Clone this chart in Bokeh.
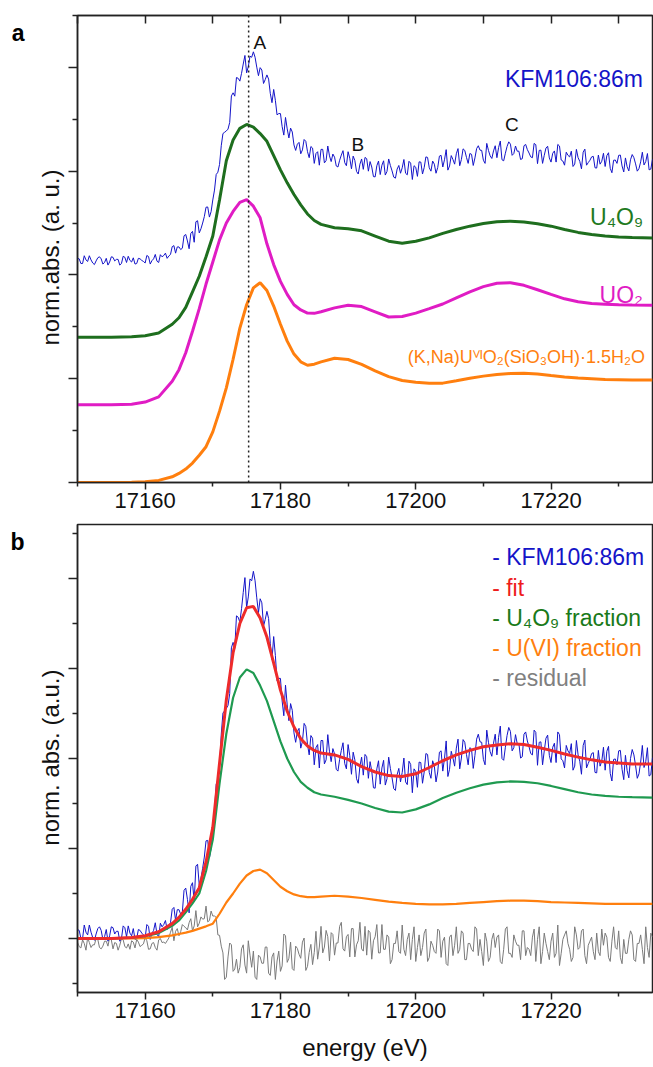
from bokeh.plotting import figure
from bokeh.models import FixedTicker, LinearAxis, Span, Label, Range1d, CustomJSTickFormatter
from bokeh.layouts import column
from bokeh.embed import file_html
from bokeh.resources import INLINE

FONT = "Liberation Sans"

# ---------------- data ----------------
# measured sample spectrum (KFM106:86m), 0.25 eV steps from 17150 eV, panel-b units
energy_fine = [17150 + 0.25 * i for i in range(341)]
kfm = [0.20, 0.18, 0.00, 0.00, 0.30, 0.14, 0.08, 0.30, 0.14, 0.02,
       -0.04, 0.10, 0.22, 0.26, 0.18, -0.02, 0.04, 0.20, -0.06, 0.06,
       0.26, 0.24, 0.10, 0.16, 0.16, -0.06, 0.00, 0.28, 0.24, 0.04,
       0.28, 0.12, 0.06, 0.22, -0.02, 0.00, 0.20, 0.18, 0.12, 0.08,
       0.02, 0.31, 0.27, -0.02, 0.11, 0.18, 0.35, 0.09, 0.04, 0.34,
       0.26, 0.31, 0.40, 0.20, 0.29, 0.35, 0.65, 0.69, 0.40, 0.64,
       0.64, 0.54, 0.59, 1.07, 1.12, 0.87, 0.57, 1.16, 1.24, 0.82,
       1.61, 1.65, 1.18, 1.34, 1.56, 1.81, 2.17, 2.18, 1.79, 2.00,
       2.45, 2.83, 3.43, 3.52, 3.82, 4.54, 5.01, 5.06, 5.11, 5.18,
       5.44, 6.46, 6.58, 6.45, 7.17, 7.14, 7.03, 7.33, 7.69, 8.02,
       7.35, 7.59, 7.99, 7.95, 8.16, 7.95, 7.57, 7.24, 7.55, 7.46,
       6.94, 7.09, 7.27, 7.11, 6.56, 6.20, 6.71, 6.29, 5.73, 5.78,
       5.78, 5.28, 4.95, 5.63, 5.19, 4.84, 5.22, 5.07, 4.57, 4.36,
       4.60, 4.67, 4.23, 4.38, 4.78, 4.71, 4.31, 4.08, 4.51, 4.45,
       3.86, 4.24, 4.31, 3.79, 4.40, 4.40, 3.88, 3.97, 4.53, 4.15,
       3.93, 4.22, 4.10, 3.76, 3.72, 3.98, 4.18, 4.35, 3.89, 3.77,
       4.31, 4.06, 3.65, 4.14, 3.97, 3.55, 3.45, 3.83, 4.03, 3.63,
       4.09, 4.04, 3.56, 3.93, 3.72, 3.35, 3.34, 3.77, 3.95, 3.43,
       3.79, 3.96, 3.41, 3.55, 4.03, 3.78, 3.57, 3.33, 3.29, 3.64,
       3.78, 3.48, 3.69, 4.01, 3.48, 3.42, 3.94, 3.87, 3.24, 3.77,
       3.71, 3.36, 3.92, 3.91, 3.45, 3.70, 4.11, 4.09, 3.69, 3.56,
       3.95, 3.83, 3.48, 3.70, 4.14, 4.17, 3.72, 4.00, 4.39, 3.60,
       3.76, 4.16, 4.01, 3.83, 4.23, 4.43, 3.77, 4.01, 4.42, 4.36,
       4.09, 3.86, 4.24, 4.21, 3.78, 4.07, 4.43, 4.54, 4.37, 4.36,
       3.98, 3.86, 4.63, 4.36, 4.15, 4.05, 4.34, 4.54, 4.08, 4.47,
       4.72, 4.00, 3.96, 4.25, 4.51, 4.69, 4.60, 4.17, 4.24, 4.53,
       4.33, 4.33, 4.01, 4.04, 4.54, 4.59, 4.39, 4.26, 4.11, 4.08,
       4.63, 4.58, 3.85, 4.36, 4.37, 3.86, 4.17, 4.45, 4.52, 4.07,
       3.91, 4.25, 4.34, 3.91, 4.59, 4.53, 3.99, 3.95, 3.79, 4.29,
       4.17, 4.11, 4.33, 3.74, 3.83, 4.40, 4.08, 3.94, 3.65, 4.29,
       4.41, 3.79, 3.89, 3.98, 4.11, 4.13, 3.69, 3.68, 4.18, 3.83,
       3.94, 4.25, 3.74, 4.16, 4.27, 3.67, 3.50, 3.98, 3.99, 3.86,
       4.17, 4.18, 3.76, 3.53, 4.07, 3.73, 3.57, 4.00, 4.20, 4.08,
       3.84, 3.56, 3.66, 3.92, 4.29, 3.80, 3.93, 4.24, 3.61, 3.64,
       4.02]
residual = [-0.08, -0.18, -0.21, -0.03, -0.11, -0.26, 0.02, -0.09, -0.20, -0.14,
            -0.14, 0.00, -0.02, -0.20, -0.23, -0.17, -0.06, -0.06, -0.17, 0.02,
            -0.03, -0.23, -0.09, -0.11, -0.26, -0.15, 0.00, -0.03, -0.18, -0.21,
            -0.12, -0.24, -0.05, -0.08, -0.21, -0.02, -0.08, -0.18, -0.15, -0.12,
            0.02, -0.05, -0.24, -0.23, -0.11, -0.09, -0.20, -0.26, -0.03, 0.00,
            -0.09, -0.08, -0.11, -0.05, 0.01, 0.14, 0.25, -0.05, 0.16, 0.22,
            0.06, 0.15, 0.31, 0.27, 0.24, 0.19, 0.35, 0.44, 0.17, 0.28,
            0.62, 0.26, 0.34, 0.48, 0.43, 0.44, 0.72, 0.37, 0.40, 0.61,
            0.50, 0.50, 0.47, 0.08, 0.07, -0.17, -0.32, -0.91, -0.86, -0.41,
            -0.10, -0.14, -0.73, -0.68, -0.46, -0.77, -0.64, -0.23, -0.14, -0.59,
            -0.77, -0.05, -0.37, -0.64, -0.28, -0.86, -0.91, -0.37, -0.41, -0.55,
            -0.55, -0.19, -0.19, -0.77, -0.82, -0.41, -0.32, -0.91, -0.50, -0.28,
            -0.73, -0.61, 0.10, 0.06, -0.53, -0.44, -0.08, -0.67, -0.71, -0.17,
            -0.22, -0.35, -0.44, -0.08, 0.01, -0.71, -0.62, -0.31, -0.13, -0.58,
            -0.31, 0.16, -0.46, -0.19, 0.27, -0.32, -0.19, 0.18, 0.04, -0.50,
            0.13, 0.09, -0.37, -0.10, -0.10, 0.27, 0.36, -0.23, -0.28, 0.04,
            0.09, -0.41, 0.22, 0.22, -0.41, -0.14, -0.05, 0.36, -0.23, -0.28,
            0.27, -0.37, 0.18, 0.13, -0.46, -0.05, 0.04, 0.31, -0.32, -0.32,
            0.31, -0.24, -0.24, 0.08, 0.03, -0.56, -0.47, -0.11, -0.11, 0.17,
            -0.29, -0.33, 0.30, -0.24, -0.38, -0.02, 0.12, -0.47, -0.02, 0.26,
            -0.51, -0.20, 0.08, -0.38, -0.20, 0.12, 0.21, -0.51, -0.42, -0.06,
            -0.15, -0.29, -0.33, 0.21, 0.17, -0.42, -0.06, 0.03, -0.56, -0.60,
            0.03, 0.08, -0.38, -0.15, 0.26, -0.33, -0.24, 0.17, 0.12, -0.47,
            -0.47, -0.11, -0.11, -0.24, -0.29, 0.26, 0.21, -0.38, -0.02, -0.29,
            -0.60, 0.12, -0.06, -0.51, -0.42, -0.02, 0.12, -0.20, 0.03, 0.08,
            -0.51, -0.56, -0.24, 0.21, 0.26, -0.33, -0.33, -0.42, 0.08, -0.06,
            -0.15, -0.15, -0.47, 0.17, 0.17, -0.38, -0.20, -0.24, -0.38, 0.03,
            0.21, -0.51, -0.02, 0.26, -0.56, -0.29, 0.12, -0.11, -0.29, -0.47,
            -0.06, 0.12, -0.42, -0.33, 0.30, -0.60, -0.33, -0.02, 0.08, 0.17,
            -0.11, -0.24, -0.51, -0.42, 0.26, 0.08, -0.24, -0.20, 0.17, 0.21,
            -0.38, -0.56, -0.15, -0.06, 0.03, -0.29, -0.47, 0.12, -0.29, -0.38,
            0.21, -0.15, 0.12, 0.03, -0.42, -0.51, -0.06, 0.26, -0.20, -0.24,
            0.17, -0.42, -0.56, -0.02, -0.33, -0.33, -0.02, 0.17, 0.08, -0.47,
            -0.51, -0.11, -0.11, 0.08, -0.24, -0.56, 0.26, -0.20, -0.42, 0.12,
            0.03]

# smooth curves
energy = [17150, 17155, 17158, 17160, 17162, 17164, 17165, 17166, 17167, 17168,
          17169, 17170, 17171, 17172, 17173, 17174, 17175, 17176, 17177, 17178,
          17179, 17180, 17181, 17182, 17183, 17184, 17185, 17186, 17188, 17190,
          17192, 17194, 17196, 17198, 17200, 17202, 17204, 17206, 17208, 17210,
          17212, 17214, 17216, 17218, 17220, 17222, 17224, 17226, 17228, 17230,
          17232, 17235]
fit = [0.00, 0.00, 0.02, 0.06, 0.15, 0.33, 0.47, 0.65, 0.87, 1.13,
       1.70, 2.47, 3.90, 5.30, 6.35, 7.00, 7.35, 7.38, 7.12, 6.70,
       6.12, 5.52, 5.05, 4.70, 4.44, 4.28, 4.18, 4.12, 4.08, 3.98,
       3.82, 3.70, 3.62, 3.60, 3.66, 3.80, 3.95, 4.08, 4.18, 4.26,
       4.30, 4.33, 4.31, 4.25, 4.18, 4.10, 4.03, 3.97, 3.92, 3.90,
       3.88, 3.88]
u4o9_fraction = [0.00, 0.00, 0.02, 0.05, 0.12, 0.28, 0.40, 0.58, 0.78, 1.00,
                 1.50, 2.20, 3.45, 4.55, 5.35, 5.80, 5.98, 5.90, 5.62, 5.28,
                 4.83, 4.38, 4.00, 3.70, 3.48, 3.35, 3.25, 3.20, 3.15, 3.08,
                 3.00, 2.90, 2.82, 2.80, 2.87, 2.98, 3.12, 3.24, 3.34, 3.42,
                 3.47, 3.49, 3.48, 3.45, 3.39, 3.32, 3.25, 3.20, 3.17, 3.15,
                 3.14, 3.13]
uvi_fraction = [0.00, 0.00, 0.00, 0.01, 0.03, 0.07, 0.10, 0.13, 0.17, 0.22,
                0.27, 0.33, 0.55, 0.80, 1.00, 1.22, 1.40, 1.50, 1.53, 1.45,
                1.30, 1.15, 1.05, 0.98, 0.94, 0.92, 0.92, 0.93, 0.95, 0.93,
                0.90, 0.86, 0.82, 0.79, 0.77, 0.76, 0.76, 0.77, 0.79, 0.81,
                0.83, 0.84, 0.84, 0.83, 0.81, 0.80, 0.79, 0.78, 0.77, 0.77,
                0.77, 0.77]
# reference spectra in panel a (vertically stacked)
ref_u4o9 = [5.60, 5.60, 5.62, 5.66, 5.76, 6.10, 6.35, 6.75, 7.35, 7.95,
            8.70, 9.50, 10.90, 12.40, 13.20, 13.65, 13.80, 13.70, 13.45, 13.15,
            12.60, 12.05, 11.55, 11.10, 10.70, 10.35, 10.10, 9.95, 9.82, 9.78,
            9.70, 9.50, 9.30, 9.22, 9.30, 9.43, 9.60, 9.75, 9.88, 9.98,
            10.05, 10.07, 10.04, 9.97, 9.88, 9.75, 9.64, 9.56, 9.50, 9.46,
            9.44, 9.42]
ref_uo2 = [3.00, 3.00, 3.02, 3.10, 3.30, 3.90, 4.35, 5.00, 5.83, 6.70,
           7.65, 8.50, 9.35, 10.00, 10.45, 10.80, 10.90, 10.65, 10.20, 9.20,
           8.40, 7.75, 7.25, 6.85, 6.65, 6.53, 6.52, 6.58, 6.73, 6.83,
           6.78, 6.58, 6.38, 6.40, 6.53, 6.70, 6.88, 7.12, 7.35, 7.55,
           7.68, 7.70, 7.60, 7.43, 7.25, 7.08, 6.97, 6.90, 6.87, 6.85,
           6.84, 6.83]
ref_uvi = [0.00, 0.00, 0.01, 0.03, 0.08, 0.22, 0.35, 0.52, 0.75, 1.05,
           1.38, 1.95, 2.75, 3.65, 4.75, 5.95, 6.85, 7.50, 7.70, 7.40,
           6.80, 6.10, 5.45, 4.95, 4.65, 4.52, 4.56, 4.65, 4.79, 4.74,
           4.55, 4.30, 4.08, 3.93, 3.86, 3.83, 3.83, 3.92, 4.02, 4.10,
           4.16, 4.20, 4.21, 4.18, 4.12, 4.07, 4.03, 4.00, 3.97, 3.96,
           3.95, 3.95]
kfm_offset_a = 8.44          # vertical stacking offset of the sample in panel a
edge_line_energy = 17175.3   # dotted line through peak A

x_major = [17160, 17180, 17200, 17220]
x_minor = [17150, 17170, 17190, 17210, 17230]
x_top = [17150, 17160, 17170, 17180, 17190, 17200, 17210, 17220, 17230]
ya_major = [0, 4, 8, 12, 16]
ya_minor = [2, 6, 10, 14, 18]
yb_major = [0, 2, 4, 6, 8]
yb_minor = [-1, 1, 3, 5, 7, 9]
ylabel_a_y = 8.67
ylabel_b_y = 4.02
panel_tag_a_y = 17.31
panel_tag_b_y = 8.82

BLUE = "#1414c8"
DKGREEN = "#1e6e1e"
MAGENTA = "#e01cc4"
ORANGE = "#ff7f0e"
RED = "#ee2b2b"
SEAGREEN = "#1f9a50"
GREY = "#7a7a7a"
AXC = "#222222"


def hide_labels(ax):
    ax.major_label_text_font_size = "0px"
    ax.major_label_text_alpha = 0
    ax.major_label_text_color = None
    ax.major_label_standoff = 0


def style(p, xt_major, xt_minor, ymaj, ymin):
    p.grid.visible = False
    p.outline_line_color = AXC
    p.outline_line_width = 1.5
    p.outline_line_alpha = 1.0
    p.background_fill_color = "white"
    p.border_fill_color = "white"
    xa = p.xaxis[0]
    xa.ticker = FixedTicker(ticks=xt_major, minor_ticks=xt_minor)
    xa.major_tick_out = 7
    xa.major_tick_in = 0
    xa.minor_tick_out = 4
    xa.minor_tick_in = 0
    xa.axis_line_color = AXC
    xa.axis_line_width = 1.5
    xa.major_tick_line_color = AXC
    xa.major_tick_line_width = 1.5
    xa.minor_tick_line_color = AXC
    xa.minor_tick_line_width = 1.5
    xa.major_label_text_font = FONT
    xa.major_label_text_font_size = "22px"
    xa.major_label_text_color = "#111111"
    xa.major_label_standoff = 3
    ya = p.yaxis[0]
    ya.ticker = FixedTicker(ticks=ymaj, minor_ticks=ymin)
    ya.major_tick_out = 9
    ya.major_tick_in = 0
    ya.minor_tick_out = 5
    ya.minor_tick_in = 0
    ya.axis_line_color = AXC
    ya.axis_line_width = 1.5
    ya.major_tick_line_color = AXC
    ya.major_tick_line_width = 1.5
    ya.minor_tick_line_color = AXC
    ya.minor_tick_line_width = 1.5
    hide_labels(ya)


def text_axis(p, y, text, size, bold, orientation, standoff):
    # an extra left axis with no line/ticks whose single tick label carries a text
    ax = LinearAxis(ticker=FixedTicker(ticks=[y], minor_ticks=[]),
                    formatter=CustomJSTickFormatter(code="return %r" % text),
                    axis_line_color=None, major_tick_line_color=None, minor_tick_line_color=None,
                    major_tick_in=0, major_tick_out=0, minor_tick_in=0, minor_tick_out=0,
                    major_label_standoff=standoff, major_label_text_font=FONT,
                    major_label_text_font_size=size,
                    major_label_text_font_style="bold" if bold else "normal",
                    major_label_text_color="#111111" if not bold else "#000000",
                    major_label_orientation=orientation)
    p.add_layout(ax, "left")


def lab(p, x, y, text, color="#111111", size="23px", align="left", style_="normal"):
    p.add_layout(Label(x=x, y=y, text=text, text_color=color, text_font=FONT,
                       text_font_size=size, text_align=align, text_baseline="alphabetic",
                       text_font_style=style_))


# ---------------- panel a ----------------
pa = figure(frame_width=575, frame_height=467,
            x_range=Range1d(17150, 17235), y_range=Range1d(0, 18),
            output_backend="svg", toolbar_location=None,
            min_border_left=77, min_border_right=1, min_border_top=15, min_border_bottom=38)
style(pa, x_major, x_minor, ya_major, ya_minor)
text_axis(pa, ylabel_a_y, "norm.abs. (a. u.)", "24px", False, "vertical", 4)
text_axis(pa, panel_tag_a_y, "a", "23px", True, "horizontal", 10)

top = LinearAxis(ticker=FixedTicker(ticks=x_top, minor_ticks=[]),
                 major_tick_in=8, major_tick_out=0, minor_tick_in=0, minor_tick_out=0,
                 axis_line_color=AXC, axis_line_width=1.5,
                 major_tick_line_color=AXC, major_tick_line_width=1.5)
hide_labels(top)
pa.add_layout(top, "above")

pa.line(energy, ref_uvi, line_color=ORANGE, line_width=3)
pa.line(energy, ref_uo2, line_color=MAGENTA, line_width=3)
pa.line(energy, ref_u4o9, line_color=DKGREEN, line_width=3)
pa.line(energy_fine, [v + kfm_offset_a for v in kfm], line_color=BLUE, line_width=1)

pa.add_layout(Span(location=edge_line_energy, dimension="height", line_color=AXC,
                   line_width=1.5, line_dash="2 3"))

lab(pa, 17176.0, 16.96, "A", size="19px")
lab(pa, 17190.5, 13.03, "B", size="19px")
lab(pa, 17213.2, 13.80, "C", size="19px")
lab(pa, 17233.6, 15.57, "KFM106:86m", color=BLUE, align="right")
lab(pa, 17233.6, 10.25, "U\u2084O\u2089", color="#1f7a1f", align="right")
lab(pa, 17233.6, 7.21, "UO\u2082", color=MAGENTA, align="right")
lab(pa, 17233.9, 4.82, "(K,Na)U\u2c7d\u1d35O\u2082(SiO\u2083OH)\u00b71.5H\u2082O", color=ORANGE,
    size="18px", align="right")

# ---------------- panel b ----------------
pb = figure(frame_width=575, frame_height=468,
            x_range=Range1d(17150, 17235), y_range=Range1d(-1.2, 9.2),
            output_backend="svg", toolbar_location=None,
            min_border_left=77, min_border_right=1, min_border_top=4, min_border_bottom=75)
style(pb, x_major, x_minor, yb_major, yb_minor)
text_axis(pb, ylabel_b_y, "norm. abs. (a.u.)", "24px", False, "vertical", 4)
text_axis(pb, panel_tag_b_y, "b", "23px", True, "horizontal", 10)
pb.xaxis[0].axis_label = "energy (eV)"
pb.xaxis[0].axis_label_text_font = FONT
pb.xaxis[0].axis_label_text_font_size = "24px"
pb.xaxis[0].axis_label_text_font_style = "normal"
pb.xaxis[0].axis_label_text_color = "#111111"
pb.xaxis[0].axis_label_standoff = 13

pb.line(energy_fine, residual, line_color=GREY, line_width=1)
pb.line(energy_fine, kfm, line_color=BLUE, line_width=1)
pb.line(energy, uvi_fraction, line_color=ORANGE, line_width=2.2)
pb.line(energy, u4o9_fraction, line_color=SEAGREEN, line_width=2.2)
pb.line(energy, fit, line_color=RED, line_width=3)

legend_x = 17211.3
lab(pb, legend_x, 8.47, "- KFM106:86m", color=BLUE)
lab(pb, legend_x, 7.80, "- fit", color="#ee1c1c")
lab(pb, legend_x, 7.13, "- U\u2084O\u2089 fraction", color="#1a7a1a")
lab(pb, legend_x, 6.46, "- U(VI) fraction", color=ORANGE)
lab(pb, legend_x, 5.80, "- residual", color="#808080")

layout = column(pa, pb, spacing=0)
open("out.html", "w").write(file_html(layout, INLINE))
